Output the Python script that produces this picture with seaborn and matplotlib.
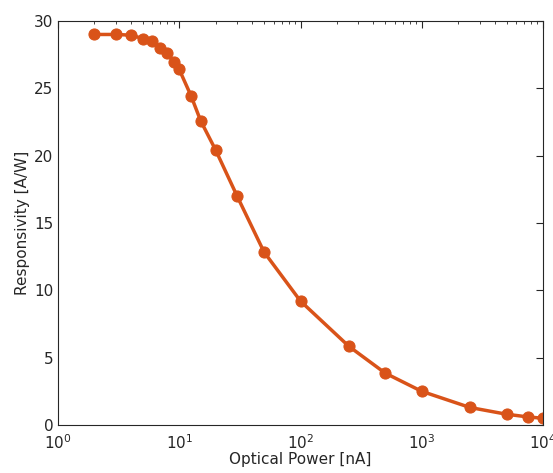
import matplotlib
matplotlib.use("Agg")
import matplotlib.pyplot as plt
import seaborn as sns
import pandas as pd
import numpy as np
from matplotlib.ticker import LogLocator, NullFormatter

power_nA = [2, 3, 4, 5, 6, 7, 8, 9, 10, 12.5, 15, 20, 30, 50, 100, 250, 500, 1000, 2500, 5000, 7500, 10000]
responsivity = [29.0, 29.0, 28.95, 28.7, 28.5, 28.0, 27.6, 26.95, 26.4, 24.45, 22.6, 20.4, 17.0, 12.85, 9.2, 5.85, 3.85, 2.5, 1.3, 0.8, 0.6, 0.5]

df = pd.DataFrame({"power": power_nA, "resp": responsivity})

sns.set_style("white")
plt.rcParams['font.family'] = ['DejaVu Sans']

fig = plt.figure(figsize=(5.53, 4.73), dpi=100)
ax = fig.add_axes([58/553, 48/473, 485/553, 404/473])

color = "#D95319"
sns.lineplot(data=df, x="power", y="resp", ax=ax, color=color, linewidth=2.5,
             marker="o", markersize=8, markeredgecolor=color, markerfacecolor=color)

ax.set_xscale("log")
ax.set_xlim(1, 1e4)
ax.set_ylim(0, 30)
ax.set_yticks([0, 5, 10, 15, 20, 25, 30])
ax.xaxis.set_major_locator(LogLocator(base=10, numticks=10))
ax.xaxis.set_minor_locator(LogLocator(base=10, subs=np.arange(2, 10), numticks=20))
ax.xaxis.set_minor_formatter(NullFormatter())

ax.set_xlabel("Optical Power [nA]", fontsize=11, color="#262626", labelpad=0)
ax.set_ylabel("Responsivity [A/W]", fontsize=11, color="#262626", labelpad=3)

for s in ax.spines.values():
    s.set_visible(True)
    s.set_color("#262626")
    s.set_linewidth(0.8)

ax.tick_params(which="both", direction="in", top=True, right=True, colors="#262626",
               labelsize=11)
ax.tick_params(axis="x", which="both", pad=6)
ax.tick_params(which="major", length=5)
ax.tick_params(which="minor", length=2.5)
ax.grid(False)

fig.savefig("out.png", dpi=100)
